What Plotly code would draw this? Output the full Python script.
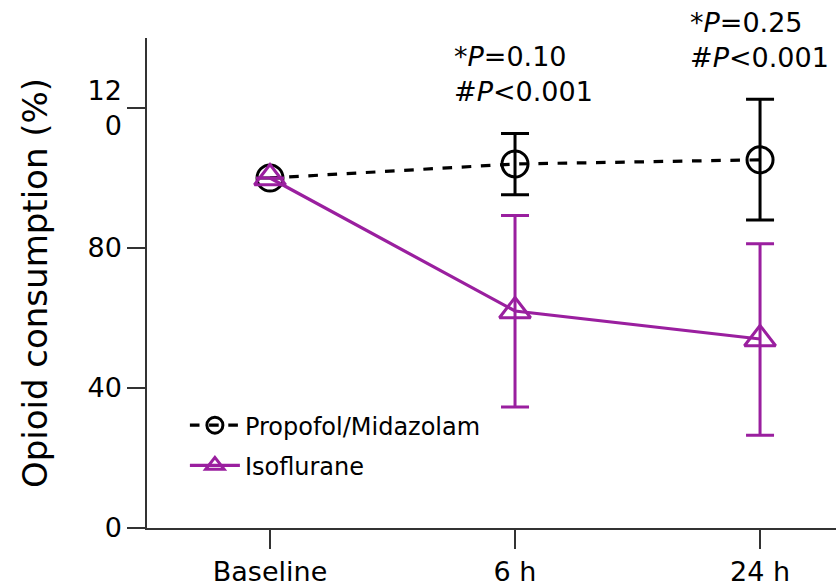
import plotly.graph_objects as go

# Time points and tick labels
timepoints = ["Baseline", "6 h", "24 h"]
x_pos = [0, 1, 2]

# Opioid consumption (% of baseline), mean with asymmetric error bars
propofol_mean = [100, 104.0, 105.2]
propofol_upper = [100, 112.7, 122.5]
propofol_lower = [100, 95.2, 88.0]

iso_mean = [100, 62.0, 54.0]
iso_upper = [100, 89.3, 81.2]
iso_lower = [100, 34.6, 26.5]

y_tickvals = [0, 40, 80, 120]
y_ticktext = ["0", "40", "80", "12<br>0"]

PURPLE = "#9a1f9f"
FONT = "DejaVu Sans"

fig = go.Figure()

fig.add_trace(go.Scatter(
    x=x_pos, y=propofol_mean, name="Propofol/Midazolam", legendgroup="pm",
    mode="lines+markers",
    line=dict(color="black", width=3.2, dash="dash"),
    marker=dict(symbol="circle-open", size=26, color="black", line=dict(width=3, color="black")),
    error_y=dict(type="data", symmetric=False,
                 array=[u - m for u, m in zip(propofol_upper, propofol_mean)],
                 arrayminus=[m - l for m, l in zip(propofol_mean, propofol_lower)],
                 color="black", thickness=3, width=14),
))

fig.add_trace(go.Scatter(
    x=x_pos, y=iso_mean, name="Isoflurane", legendgroup="iso",
    mode="lines+markers",
    line=dict(color=PURPLE, width=3.2),
    marker=dict(symbol="triangle-up-open", size=27, color=PURPLE, line=dict(width=3, color=PURPLE)),
    error_y=dict(type="data", symmetric=False,
                 array=[u - m for u, m in zip(iso_upper, iso_mean)],
                 arrayminus=[m - l for m, l in zip(iso_mean, iso_lower)],
                 color=PURPLE, thickness=3, width=14),
))

# P-value annotations above the 6 h and 24 h points
fig.add_annotation(x=1.0, y=129.6, xref="x", yref="y", xanchor="left", yanchor="middle",
                   xshift=-63,
                   text="*<i>P</i>=0.10<br>#<i>P</i><0.001", showarrow=False, align="left",
                   font=dict(family=FONT, size=27, color="black"))
fig.add_annotation(x=2.0, y=139.4, xref="x", yref="y", xanchor="left", yanchor="middle",
                   xshift=-72,
                   text="*<i>P</i>=0.25<br>#<i>P</i><0.001", showarrow=False, align="left",
                   font=dict(family=FONT, size=27, color="black"))

fig.update_layout(
    width=836, height=583,
    margin=dict(l=147, r=0, t=38, b=55),
    paper_bgcolor="white", plot_bgcolor="white",
    font=dict(family=FONT, size=27, color="black"),
    showlegend=True,
    legend=dict(x=0.055, y=0.255, xanchor="left", yanchor="top",
                font=dict(family=FONT, size=24, color="black"),
                bgcolor="rgba(0,0,0,0)", tracegroupgap=6, itemwidth=50),
)

fig.update_xaxes(
    range=[-0.502, 2.31], tickvals=x_pos, ticktext=timepoints, automargin=False,
    showgrid=False, zeroline=False, showline=True, linecolor="#333333", linewidth=1.5,
    ticks="outside", ticklen=19, tickwidth=1.5, tickcolor="#333333",
    tickfont=dict(family=FONT, size=27),
)
fig.update_yaxes(
    range=[0, 140], tickvals=y_tickvals, ticktext=y_ticktext, automargin=False,
    showgrid=False, zeroline=False, showline=True, linecolor="#333333", linewidth=1.5,
    ticks="outside", ticklen=18, tickwidth=1.5, tickcolor="#333333",
    tickfont=dict(family=FONT, size=27),
    title=dict(text="Opioid consumption (%)", font=dict(family=FONT, size=34), standoff=30),
)

fig.write_html("out.html")
